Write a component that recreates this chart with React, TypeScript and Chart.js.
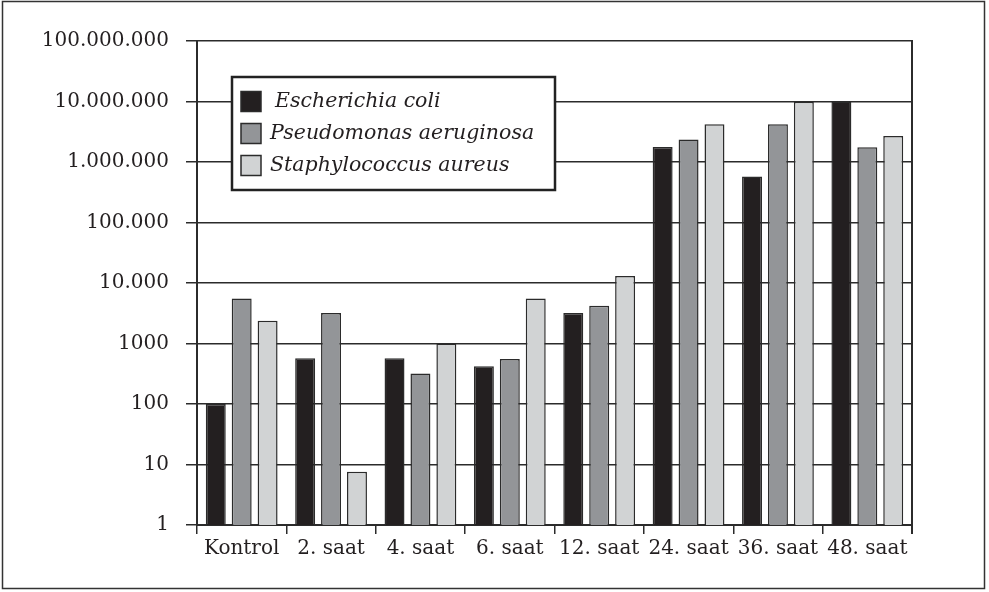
import React, { useEffect, useRef } from "react";
import { Chart, registerables } from "chart.js";

Chart.register(...registerables);

const categories = ["Kontrol", "2. saat", "4. saat", "6. saat", "12. saat", "24. saat", "36. saat", "48. saat"];
const seriesNames = ["Escherichia coli", "Pseudomonas aeruginosa", "Staphylococcus aureus"];
const ecoli = [100, 570, 570, 420, 3200, 1770000, 575000, 10000000];
const paeruginosa = [5550, 3200, 318, 555, 4200, 2350000, 4200000, 1750000];
const saureus = [2370, 7.6, 1000, 5550, 13000, 4200000, 9900000, 2700000];
const yTickValues = [1, 10, 100, 1000, 10000, 100000, 1000000, 10000000, 100000000];
const yTickLabels = ["1", "10", "100", "1000", "10.000", "100.000", "1.000.000", "10.000.000", "100.000.000"];

const colors = ["#231f20", "#939598", "#d1d3d4"];
const lineColor = "#2b2b2b";
const FONT = "'DejaVu Serif', serif";

export default function App() {
  const ref = useRef<HTMLCanvasElement>(null);

  useEffect(() => {
    const canvas = ref.current!;
    const decorPlugin = {
      id: "decor",
      afterDraw(chart: any) {
        const { ctx, chartArea: a } = chart;
        ctx.save();
        // right border of plot
        ctx.strokeStyle = lineColor;
        ctx.lineWidth = 2;
        ctx.beginPath();
        ctx.moveTo(a.right, a.top - 1);
        ctx.lineTo(a.right, a.bottom + 9);
        ctx.stroke();
        // legend box
        const lx = a.left + 35, ly = a.top + 36, lw = 323, lh = 113;
        ctx.fillStyle = "#fff";
        ctx.fillRect(lx, ly, lw, lh);
        ctx.lineWidth = 2.5;
        ctx.strokeStyle = "#222";
        ctx.strokeRect(lx, ly, lw, lh);
        chart.data.datasets.forEach((ds: any, i: number) => {
          const cy = ly + 24.5 + i * 32;
          ctx.fillStyle = ds.backgroundColor;
          ctx.fillRect(lx + 9, cy - 10, 20, 20);
          ctx.lineWidth = 1.5;
          ctx.strokeStyle = lineColor;
          ctx.strokeRect(lx + 9, cy - 10, 20, 20);
          ctx.fillStyle = "#231f20";
          ctx.font = "italic 20.5px " + FONT;
          ctx.textBaseline = "middle";
          ctx.textAlign = "left";
          ctx.fillText(ds.label, lx + 38 + (i === 0 ? 5 : 0), cy);
        });
        // outer frame
        ctx.lineWidth = 1.5;
        ctx.strokeStyle = "#333";
        ctx.strokeRect(2.5, 1.5, 982, 587);
        ctx.restore();
      },
    };

    const chart = new Chart(canvas, {
      type: "bar",
      data: {
        labels: categories,
        datasets: [ecoli, paeruginosa, saureus].map((d, i) => ({
          label: seriesNames[i],
          data: d,
          backgroundColor: colors[i],
          borderColor: lineColor,
          borderWidth: 1.5,
          categoryPercentage: 0.87,
          barPercentage: 0.77,
        })),
      },
      options: {
        responsive: false,
        animation: false,
        devicePixelRatio: 1,
        layout: { padding: { left: 0, top: 41, right: 77, bottom: 0 } },
        plugins: { legend: { display: false }, tooltip: { enabled: false } },
        scales: {
          x: {
            offset: true,
            grid: { display: true, offset: true, drawOnChartArea: false, tickLength: 9, color: lineColor, lineWidth: 1.5 },
            border: { display: true, color: lineColor, width: 2 },
            ticks: { color: "#231f20", font: { family: FONT, size: 20 }, padding: 3, maxRotation: 0, autoSkip: false },
            afterFit: (s: any) => { s.height = 592 - 525; },
          },
          y: {
            type: "logarithmic",
            min: 1,
            max: 100000000,
            grid: { color: lineColor, lineWidth: 1.5, tickLength: 11 },
            border: { display: true, color: lineColor, width: 2 },
            ticks: {
              color: "#231f20",
              font: { family: FONT, size: 20 },
              padding: 17,
              callback: (v: any) => {
                const idx = yTickValues.indexOf(Number(v));
                return idx >= 0 ? yTickLabels[idx] : "";
              },
            },
            afterBuildTicks: (s: any) => { s.ticks = yTickValues.map((v) => ({ value: v })); },
            afterFit: (s: any) => { s.width = 197; },
          },
        },
      },
      plugins: [decorPlugin],
    } as any);
    return () => chart.destroy();
  }, []);

  return (
    <div style={{ position: "absolute", left: 0, top: 0, width: 989, height: 592, background: "#fff" }}>
      <canvas ref={ref} width={989} height={592} style={{ width: 989, height: 592, display: "block" }} />
    </div>
  );
}
